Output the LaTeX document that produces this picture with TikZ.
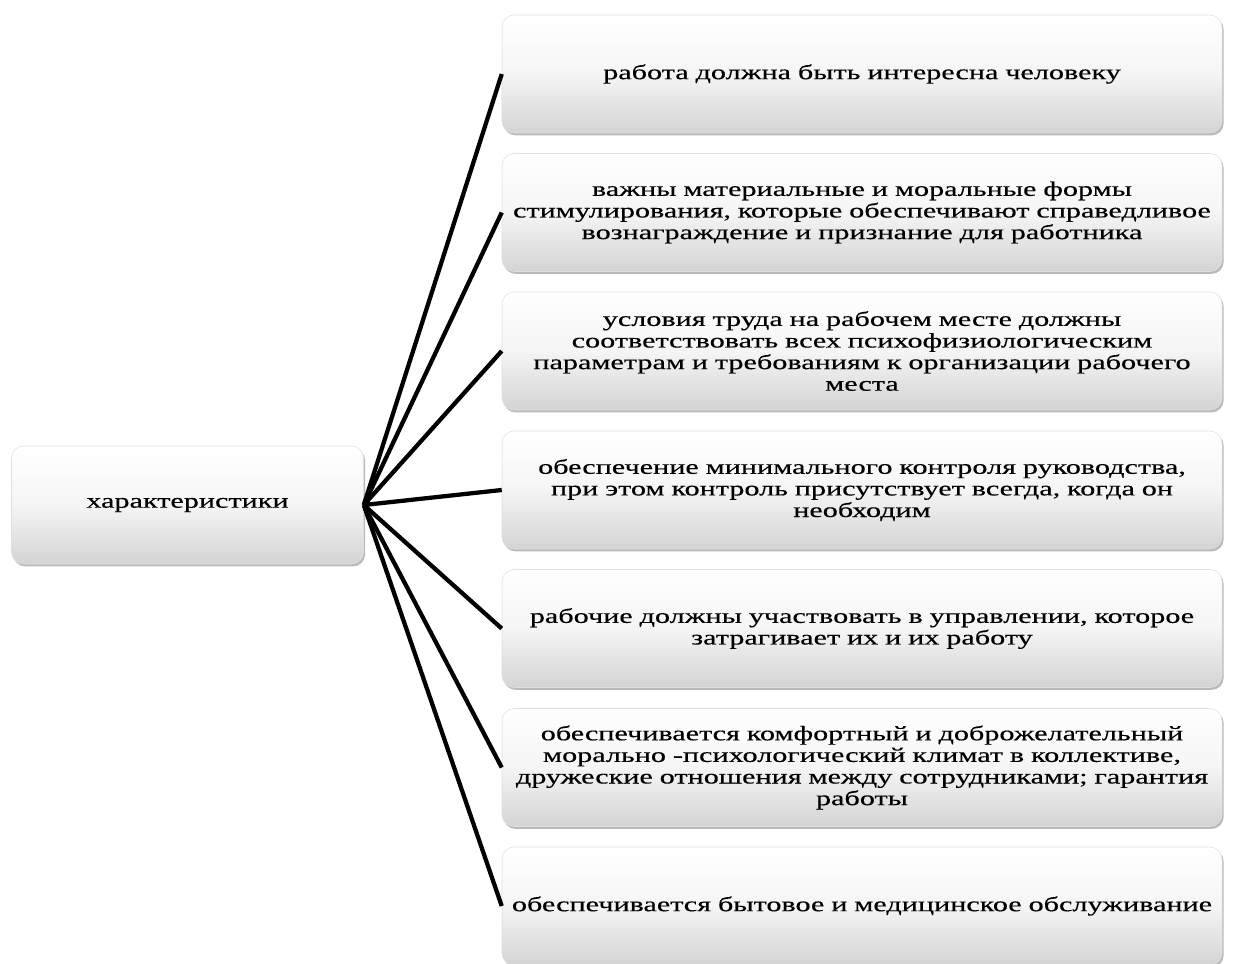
\documentclass[tikz,border=0pt]{standalone}
\usepackage{fontspec}
\setmainfont[FakeStretch=1.46,FakeBold=0.35]{Liberation Serif}
\usetikzlibrary{shadows}
\begin{document}
\begin{tikzpicture}[x=0.75pt,y=-0.75pt,
  boxstyle/.style={rounded corners=9pt, top color=white, bottom color=black!17,
    middle color=white!96!black, draw=black!12, line width=0.4pt,
    drop shadow={opacity=0.45, shadow xshift=1.2pt, shadow yshift=-1.8pt, fill=black!60},
    align=center, font=\fontsize{15.5}{16.2}\selectfont, inner xsep=2pt, inner ysep=0pt,
    minimum height=88.5pt},
  widebox/.style={boxstyle, text width=536pt},
  linkstyle/.style={line width=3.2pt, black}]
\useasboundingbox (0,0) rectangle (1234,963);
\fill[white] (0,0) rectangle (1234,963);
\node[boxstyle, text width=260pt] (c) at (187.5,505) {характеристики};
\node[widebox] (b1) at (862,74) {работа должна быть интересна человеку};
\node[widebox] (b2) at (862,212.5) {важны материальные и моральные формы\\стимулирования, которые обеспечивают справедливое\\вознаграждение и признание для работника};
\node[widebox] (b3) at (862,351) {условия труда на рабочем месте должны\\соответствовать всех психофизиологическим\\параметрам и требованиям к организации рабочего\\места};
\node[widebox] (b4) at (862,490) {обеспечение минимального контроля руководства,\\при этом контроль присутствует всегда, когда он\\необходим};
\node[widebox] (b5) at (862,628.5) {рабочие должны участвовать в управлении, которое\\затрагивает их и их работу};
\node[widebox] (b6) at (862,767.5) {обеспечивается комфортный и доброжелательный\\морально -психологический климат в коллективе,\\дружеские отношения между сотрудниками; гарантия\\работы};
\node[widebox] (b7) at (862,906) {обеспечивается бытовое и медицинское обслуживание};
\foreach \b in {b1,b2,b3,b4,b5,b6,b7}{
  \draw[linkstyle] (c.east) -- (\b.west);
}
\end{tikzpicture}
\end{document}
